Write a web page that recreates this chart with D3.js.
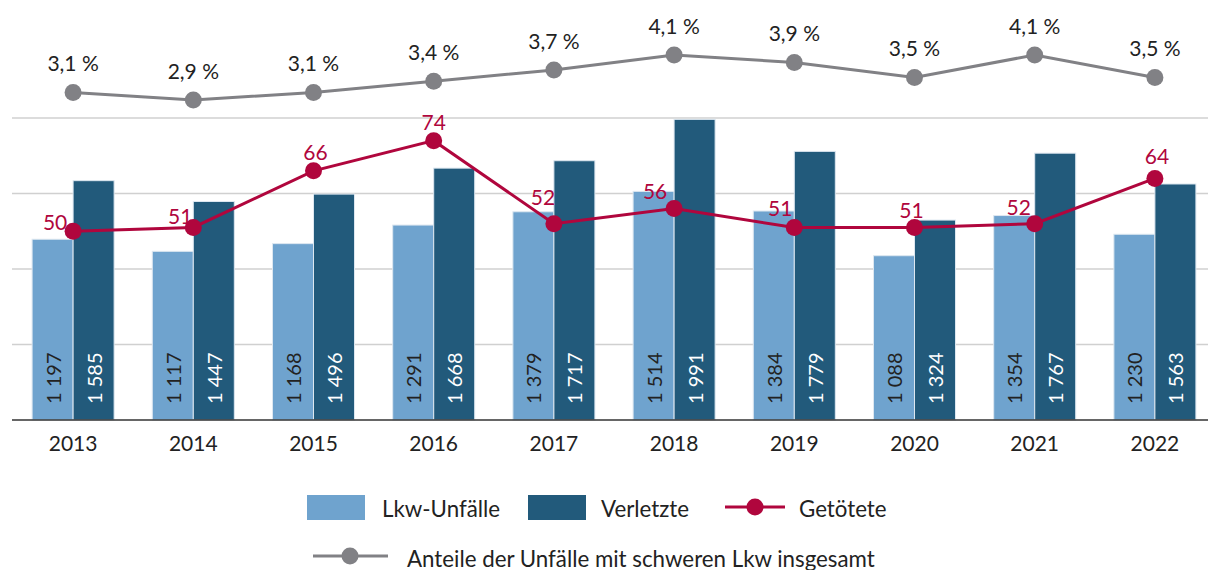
<!DOCTYPE html>
<html>
<head>
<meta charset="utf-8">
<script src="https://cdn.jsdelivr.net/npm/d3@7"></script>
<style>
  body { margin: 0; background: #fff; }
  svg { display: block; font-family: Lato, "Open Sans", sans-serif; }
</style>
</head>
<body>
<div id="chart"></div>
<script>
// data
var years = ["2013","2014","2015","2016","2017","2018","2019","2020","2021","2022"];
var unfaelle = [1197, 1117, 1168, 1291, 1379, 1514, 1384, 1088, 1354, 1230];
var verletzte = [1585, 1447, 1496, 1668, 1717, 1991, 1779, 1324, 1767, 1563];
var getoetete = [50, 51, 66, 74, 52, 56, 51, 51, 52, 64];
var anteile = [3.1, 2.9, 3.1, 3.4, 3.7, 4.1, 3.9, 3.5, 4.1, 3.5];

// hand placed label nudges for the red line (like in the original)
var killedLabelDx = [-18, -13, 2, 0, -11, -19, -14, -3, -16, 2];
var killedLabelDy = [-10, -12, -19, -19, -27, -18, -20, -18, -17, -23];

var width = 1208, height = 570;
var lightBlue = "#6fa3ce", darkBlue = "#225a7b", red = "#b0063d", grey = "#818185";

var svg = d3.select("#chart").append("svg")
  .attr("width", width)
  .attr("height", height);

var x = d3.scaleBand().domain(years).range([13, 1215]);
var xSub = d3.scaleBand().domain(["unf", "verl"]).range([-41, 41]);
var y = d3.scaleLinear().domain([0, 2000]).range([420, 118]);
var yKilled = d3.scaleLinear().domain([0, 80]).range([420, 118]);
var yPct = d3.scaleLinear().domain([0, 5]).range([208.75, 21.25]);

var cx = function(d, i) { return x(years[i]) + x.bandwidth() / 2; };

// gridlines
svg.append("g").selectAll("line")
  .data(y.ticks(4).filter(function(t){ return t > 0; }))
  .enter().append("line")
  .attr("x1", 12).attr("x2", width)
  .attr("y1", function(d){ return y(d); })
  .attr("y2", function(d){ return y(d); })
  .attr("stroke", "#d0d0d0")
  .attr("stroke-width", 1.5);

// bars
var groups = svg.append("g").selectAll("g")
  .data(years).enter().append("g")
  .attr("transform", function(d){ return "translate(" + (x(d) + x.bandwidth() / 2) + ",0)"; });

groups.append("rect")
  .attr("x", xSub("unf"))
  .attr("width", xSub.bandwidth())
  .attr("y", function(d, i){ return y(unfaelle[i]); })
  .attr("height", function(d, i){ return y(0) - y(unfaelle[i]); })
  .attr("fill", lightBlue)
  .attr("stroke", "#dde7f0").attr("stroke-width", 1);

groups.append("rect")
  .attr("x", xSub("verl"))
  .attr("width", xSub.bandwidth())
  .attr("y", function(d, i){ return y(verletzte[i]); })
  .attr("height", function(d, i){ return y(0) - y(verletzte[i]); })
  .attr("fill", darkBlue)
  .attr("stroke", "#dde7f0").attr("stroke-width", 1);

var fmt = function(v){ return d3.format(",")(v).replace(",", " "); };

groups.append("text")
  .attr("transform", "translate(" + (xSub("unf") + xSub.bandwidth() / 2) + ",404) rotate(-90)")
  .attr("dominant-baseline", "central")
  .attr("font-size", 20)
  .attr("fill", "#222")
  .text(function(d, i){ return fmt(unfaelle[i]); });

groups.append("text")
  .attr("transform", "translate(" + (xSub("verl") + xSub.bandwidth() / 2) + ",404) rotate(-90)")
  .attr("dominant-baseline", "central")
  .attr("font-size", 20)
  .attr("fill", "#fff")
  .text(function(d, i){ return fmt(verletzte[i]); });

// baseline + year labels
svg.append("line")
  .attr("x1", 12).attr("x2", width)
  .attr("y1", y(0)).attr("y2", y(0))
  .attr("stroke", "#333").attr("stroke-width", 1.5);

svg.append("g").selectAll("text")
  .data(years).enter().append("text")
  .attr("x", function(d){ return x(d) + x.bandwidth() / 2; })
  .attr("y", 451)
  .attr("text-anchor", "middle")
  .attr("font-size", 21)
  .attr("fill", "#222")
  .text(function(d){ return d; });

// red line: Getötete
var killedLine = d3.line()
  .x(cx)
  .y(function(d){ return yKilled(d); });

svg.append("path")
  .datum(getoetete)
  .attr("d", killedLine)
  .attr("fill", "none")
  .attr("stroke", red)
  .attr("stroke-width", 3);

svg.append("g").selectAll("circle")
  .data(getoetete).enter().append("circle")
  .attr("cx", cx)
  .attr("cy", function(d){ return yKilled(d); })
  .attr("r", 8.5)
  .attr("fill", red);

svg.append("g").selectAll("text")
  .data(getoetete).enter().append("text")
  .attr("x", function(d, i){ return cx(d, i) + killedLabelDx[i]; })
  .attr("y", function(d, i){ return yKilled(d) + killedLabelDy[i]; })
  .attr("text-anchor", "middle")
  .attr("dominant-baseline", "central")
  .attr("font-size", 21)
  .attr("fill", red)
  .text(function(d){ return d; });

// grey line: Anteile
var pctLine = d3.line()
  .x(cx)
  .y(function(d){ return yPct(d); });

svg.append("path")
  .datum(anteile)
  .attr("d", pctLine)
  .attr("fill", "none")
  .attr("stroke", grey)
  .attr("stroke-width", 3);

svg.append("g").selectAll("circle")
  .data(anteile).enter().append("circle")
  .attr("cx", cx)
  .attr("cy", function(d){ return yPct(d); })
  .attr("r", 8.5)
  .attr("fill", grey);

svg.append("g").selectAll("text")
  .data(anteile).enter().append("text")
  .attr("x", cx)
  .attr("y", function(d){ return yPct(d) - 30; })
  .attr("text-anchor", "middle")
  .attr("dominant-baseline", "central")
  .attr("font-size", 21)
  .attr("fill", "#222")
  .text(function(d){ return d3.format(".1f")(d).replace(".", ",") + " %"; });

// legend
var legend = svg.append("g").attr("font-size", 22.3).attr("fill", "#222");

legend.append("rect").attr("x", 307).attr("y", 495).attr("width", 58).attr("height", 25).attr("fill", lightBlue);
legend.append("text").attr("x", 382).attr("y", 508).attr("dominant-baseline", "central").text("Lkw-Unfälle");

legend.append("rect").attr("x", 528).attr("y", 495).attr("width", 58).attr("height", 25).attr("fill", darkBlue);
legend.append("text").attr("x", 601).attr("y", 508).attr("dominant-baseline", "central").text("Verletzte");

legend.append("line").attr("x1", 725).attr("x2", 785).attr("y1", 507).attr("y2", 507).attr("stroke", red).attr("stroke-width", 3);
legend.append("circle").attr("cx", 755).attr("cy", 507).attr("r", 8.5).attr("fill", red);
legend.append("text").attr("x", 799).attr("y", 508).attr("dominant-baseline", "central").text("Getötete");

legend.append("line").attr("x1", 313).attr("x2", 388).attr("y1", 556).attr("y2", 556).attr("stroke", grey).attr("stroke-width", 3);
legend.append("circle").attr("cx", 350).attr("cy", 556).attr("r", 8.5).attr("fill", grey);
legend.append("text").attr("x", 407).attr("y", 558).attr("dominant-baseline", "central").text("Anteile der Unfälle mit schweren Lkw insgesamt");
</script>
</body>
</html>
